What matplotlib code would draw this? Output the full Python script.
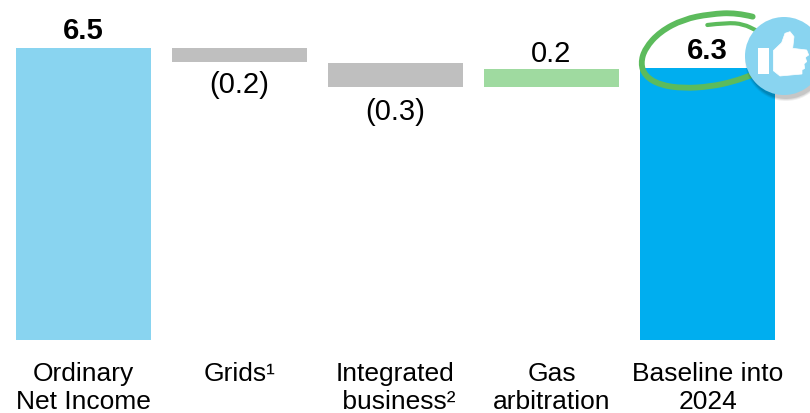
import matplotlib
matplotlib.use("Agg")
import matplotlib.pyplot as plt
from matplotlib.patches import Circle, PathPatch, Polygon, Rectangle
from matplotlib.path import Path
from matplotlib.transforms import Affine2D

plt.rcParams['font.family'] = ['Liberation Sans', 'DejaVu Sans']

categories = ["Ordinary\nNet Income", "Grids\u00b9", "Integrated\n business\u00b2",
              "Gas\narbitration", "Baseline into\n2024"]
# bar extents, the drawn heights do not follow the labels exactly
bar_bottoms = [0.0, 6.19, 5.64, 5.64, 0.0]
bar_tops = [6.5, 6.49, 6.17, 6.03, 6.06]
labels = ["6.5", "(0.2)", "(0.3)", "0.2", "6.3"]
label_above = [True, False, False, True, True]
label_bold = [True, False, False, False, True]
colors = ["#89D4F0", "#BFBFBF", "#BFBFBF", "#9FDAA0", "#00AEEF"]
label_offsets = [12.5, -16.5, -18.5, 11, 12]  # points away from the bar end

fig = plt.figure(figsize=(8.1, 4.13), dpi=100)
# axes spans the whole width, bottom edge sits on the bars' baseline
ax = fig.add_axes([0, 73 / 413, 1, 340 / 413])
ax.set_xlim(-83.5 / 156, (810 - 83.5) / 156)
ax.set_ylim(0, 340 / 44.92)

x = range(len(categories))
heights = [t - b for t, b in zip(bar_tops, bar_bottoms)]
ax.bar(x, heights, bottom=bar_bottoms, width=0.862, color=colors)

for i in x:
    y = bar_tops[i] if label_above[i] else bar_bottoms[i]
    ax.annotate(labels[i], (i, y), xytext=(0, label_offsets[i]), textcoords="offset points",
                ha="center", va="center", fontsize=21, color="black",
                fontweight="bold" if label_bold[i] else "normal")

ax.set_xticks(list(x))
ax.set_xticklabels(categories, fontsize=19, linespacing=1.25)
ax.tick_params(axis="x", length=0, pad=15.5)
ax.set_yticks([])
for s in ax.spines.values():
    s.set_visible(False)

# callout on the last bar, drawn in pixel coordinates with y going down
px = Affine2D().scale(1, -1).translate(0, 413)


def zoomed(points):
    return [(610 + a / 3, b / 3) for a, b in points]


def smooth(points):
    # quadratic curve through the midpoints of the traced points
    pts = zoomed(points)
    verts = [pts[0]]
    codes = [Path.MOVETO]
    for p, q in zip(pts[1:-1], pts[2:]):
        verts += [p, ((p[0] + q[0]) / 2, (p[1] + q[1]) / 2)]
        codes += [Path.CURVE3, Path.CURVE3]
    verts += [pts[-1]]
    codes += [Path.LINETO]
    return Path(verts, codes)


green = "#5CBB5C"
ring = [(428, 50), (380, 38), (300, 42), (220, 58), (150, 95), (105, 145), (92, 190),
        (105, 228), (150, 255), (220, 265), (300, 260), (370, 245), (425, 225)]
flick = [(292, 75), (350, 68), (400, 72), (440, 92)]
fig.add_artist(PathPatch(smooth(ring), fc="none", ec=green, lw=4.2, capstyle="round", transform=px))
fig.add_artist(PathPatch(smooth(flick), fc="none", ec=green, lw=3.0, capstyle="round", transform=px))

for r, a in [(41, 0.06), (40, 0.08), (39, 0.1)]:
    fig.add_artist(Circle((786, 60), r, fc="black", ec="none", alpha=a, transform=px))
fig.add_artist(Circle((784, 56), 39, fc="#89D4F0", ec="none", transform=px))
fig.add_artist(Rectangle((758.3, 48), 11, 26, fc="white", ec="none", transform=px))
hand = [(490, 152), (515, 128), (525, 100), (540, 95), (552, 110), (548, 145), (590, 150),
        (596, 165), (586, 172), (590, 185), (582, 192), (584, 205), (576, 210), (576, 222),
        (510, 228), (490, 212)]
fig.add_artist(Polygon(zoomed(hand), closed=True, fc="white", ec="white", lw=0.5, joinstyle="round",
                       transform=px))

fig.savefig("out.png", dpi=100)
